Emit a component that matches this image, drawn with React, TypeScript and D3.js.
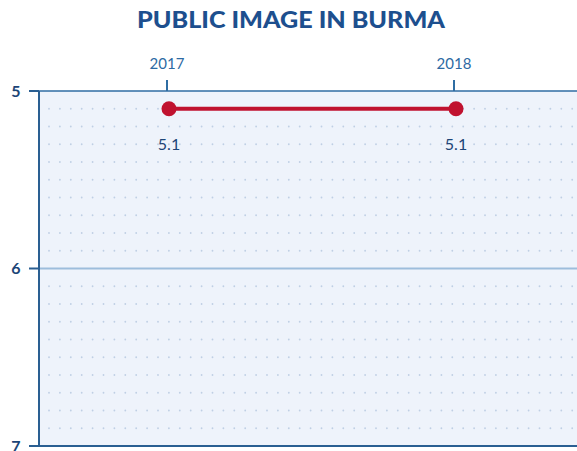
import React from "react";
import * as d3 from "d3";

const years = [2017, 2018];
const values = [5.1, 5.1];
const valueLabels = ["5.1", "5.1"];
const yTicks = [5, 6, 7];
const title = "PUBLIC IMAGE IN BURMA";

const W = 577;
const H = 451;
const left = 39;
const top = 91;
const bottom = 446;

export default function App() {
  const x = d3.scaleLinear().domain([2017, 2018]).range([169, 456]);
  const y = d3.scaleLinear().domain([5, 7]).range([top, bottom]);
  const line = d3
    .line<number>()
    .x((_, i) => x(years[i]))
    .y((d) => y(d));
  const dotRows = d3.range(5.1, 7.0, 0.1).map((v) => +v.toFixed(1)).filter((v) => v !== 6);
  const dotCols = d3.range(left + 10, W, 10.9);
  const navy = "#1c4577";
  const axisBlue = "#2f6da3";
  return (
    <svg
      width={W}
      height={H}
      style={{ position: "absolute", left: 0, top: 0, display: "block" }}
    >
      <rect x={0} y={0} width={W} height={H} fill="#ffffff" />
      <text
        x={137}
        y={28}
        textLength={308}
        lengthAdjust="spacingAndGlyphs"
        fontFamily="Lato, 'Open Sans', sans-serif"
        fontWeight={900}
        fontSize={22}
        fill="#1d4f8e"
      >
        {title}
      </text>
      <rect x={left} y={top} width={W - left} height={bottom - top} fill="#eef3fb" />
      {dotRows.map((v) => (
        <g key={v}>
          {dotCols.map((cx, j) => (
            <circle key={j} cx={cx} cy={y(v)} r={0.9} fill="#bfcfe4" />
          ))}
        </g>
      ))}
      <line x1={left} x2={W} y1={y(6)} y2={y(6)} stroke="#9dbddc" strokeWidth={2} />
      <line x1={left} x2={W} y1={top} y2={top} stroke={axisBlue} strokeWidth={1.5} />
      <line x1={left} x2={W} y1={bottom} y2={bottom} stroke="#2a5f92" strokeWidth={2} />
      <line x1={left} x2={left} y1={top} y2={bottom} stroke="#2a5f92" strokeWidth={2} />
      {yTicks.map((t) => (
        <g key={t}>
          <line x1={29} x2={left} y1={y(t)} y2={y(t)} stroke="#2a5f92" strokeWidth={2} />
          <text
            x={16}
            y={y(t) + 5.5}
            textAnchor="middle"
            fontFamily="Lato, 'Open Sans', sans-serif"
            fontWeight={700}
            fontSize={16}
            fill={navy}
          >
            {t}
          </text>
        </g>
      ))}
      {years.map((yr) => (
        <g key={yr}>
          <line x1={x(yr) - 2} x2={x(yr) - 2} y1={80} y2={top} stroke={axisBlue} strokeWidth={2} />
          <text
            x={x(yr) - 2}
            y={69}
            textAnchor="middle"
            fontFamily="Lato, 'Open Sans', sans-serif"
            fontSize={15}
            fill="#2d6aa3"
          >
            {yr}
          </text>
        </g>
      ))}
      <path d={line(values) || ""} fill="none" stroke="#c0122f" strokeWidth={4} />
      {values.map((v, i) => (
        <g key={i}>
          <circle cx={x(years[i])} cy={y(v)} r={7.5} fill="#c0122f" />
          <text
            x={x(years[i])}
            y={y(v) + 41}
            textAnchor="middle"
            fontFamily="Lato, 'Open Sans', sans-serif"
            fontSize={16}
            fill={navy}
          >
            {valueLabels[i]}
          </text>
        </g>
      ))}
    </svg>
  );
}
